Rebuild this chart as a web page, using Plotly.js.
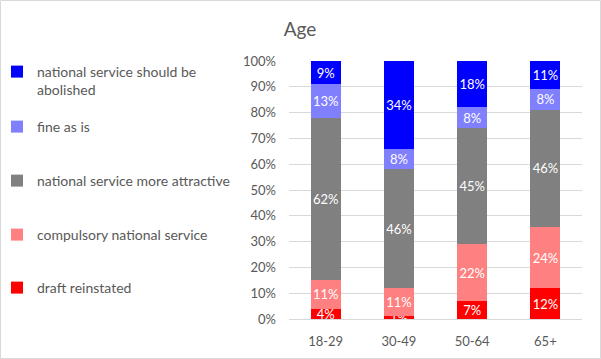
<!DOCTYPE html>
<html>
<head>
<meta charset="utf-8">
<script src="https://cdn.plot.ly/plotly-3.0.1.min.js"></script>
<style>html,body{margin:0;padding:0;background:#fff;}#chart{width:601px;height:359px;}</style>
</head>
<body>
<div id="chart"></div>
<script>
const categories = ['18-29', '30-49', '50-64', '65+'];
const draftReinstated = [4, 1, 7, 12];
const compulsoryService = [11, 11, 22, 24];
const moreAttractive = [62, 46, 45, 46];
const fineAsIs = [13, 8, 8, 8];
const shouldBeAbolished = [9, 34, 18, 11];
const seriesNames = ['draft reinstated', 'compulsory national service', 'national service more attractive', 'fine as is', 'national service should be<br>abolished'];
const seriesValues = [draftReinstated, compulsoryService, moreAttractive, fineAsIs, shouldBeAbolished];
const seriesColors = ['#FF0000', '#FF8080', '#808080', '#8080FF', '#0000FF'];
const yTickVals = [0, 10, 20, 30, 40, 50, 60, 70, 80, 90, 100];

const FONT = 'Lato, "Liberation Sans", sans-serif';
const GREY = '#595959';

// legend positions (pixel y of first text line centre)
const legendPix = [288, 235, 181, 127, 72];
const L = 289, R = 19, T = 61, B = 40, W = 601, H = 359;
const pw = W - L - R, ph = H - T - B;
const legendNames = ['legend', 'legend2', 'legend3', 'legend4', 'legend5'];

const traces = seriesValues.map((vals, i) => ({
  type: 'bar',
  name: seriesNames[i],
  x: categories,
  y: vals,
  text: vals.map(v => v + '%'),
  textposition: 'inside',
  insidetextanchor: 'middle',
  constraintext: 'none',
  textangle: 0,
  textfont: {family: FONT, size: 13, color: '#ffffff'},
  marker: {color: seriesColors[i], line: {width: 0}},
  legend: legendNames[i],
  showlegend: true,
  hoverinfo: 'x+name+text'
}));

const layout = {
  width: W, height: H,
  margin: {l: L, r: R, t: T, b: B, autoexpand: false},
  showlegend: true,
  paper_bgcolor: '#ffffff',
  plot_bgcolor: '#ffffff',
  barmode: 'stack',
  barnorm: 'percent',
  bargap: 0.59,
  font: {family: FONT, size: 13, color: GREY},
  title: {text: 'Age', font: {family: FONT, size: 19, color: GREY}, x: 300 / W, xanchor: 'center', y: 1 - 29 / H, yanchor: 'middle'},
  xaxis: {
    type: 'category', showgrid: false, zeroline: false,
    showline: false, ticks: '', ticklabelstandoff: 13,
    tickfont: {family: FONT, size: 13, color: GREY}
  },
  yaxis: {
    range: [0, 100], tickvals: yTickVals, ticktext: yTickVals.map(v => v + '%'),
    showgrid: true, gridcolor: '#d9d9d9', gridwidth: 1, zeroline: true, zerolinecolor: '#d9d9d9',
    showline: false, ticks: '', ticklabelstandoff: 12, fixedrange: true,
    tickfont: {family: FONT, size: 13, color: GREY}
  },
  shapes: [{
    type: 'rect', xref: 'paper', yref: 'paper',
    x0: (0.5 - L) / pw, x1: (W - 0.5 - L) / pw,
    y0: (H - B - (H - 0.5)) / ph, y1: (H - B - 0.5) / ph,
    line: {color: '#d9d9d9', width: 1}, fillcolor: 'rgba(0,0,0,0)', layer: 'below'
  }]
};
legendNames.forEach((ln, i) => {
  layout[ln] = {
    x: (-3 - L) / pw, xanchor: 'left',
    y: (H - B - (legendPix[i] - 16)) / ph, yanchor: 'top',
    bgcolor: 'rgba(0,0,0,0)', borderwidth: 0,
    valign: 'top',
    font: {family: FONT, size: 14, color: GREY}
  };
});

Plotly.newPlot('chart', traces, layout, {displayModeBar: false, staticPlot: true});
</script>
</body>
</html>
